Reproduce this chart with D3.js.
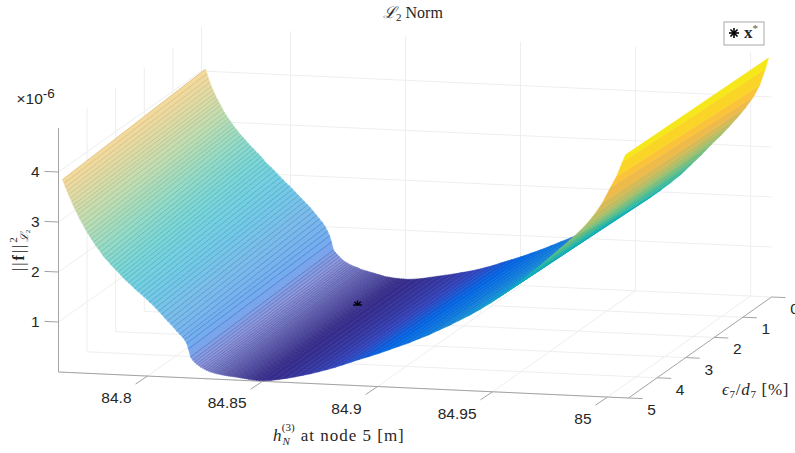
<!DOCTYPE html>
<html><head><meta charset="utf-8">
<script src="https://cdnjs.cloudflare.com/ajax/libs/d3/7.8.5/d3.min.js"></script>
<style>html,body{margin:0;padding:0;background:#fff;overflow:hidden}svg{display:block}
.t{font-family:"Liberation Sans",Arial,sans-serif;font-size:15.5px;fill:#262626}
.s{font-family:"Liberation Serif","DejaVu Serif",serif;fill:#262626}
</style></head><body><svg id="c" width="795" height="453"></svg>
<script>
const hValues=[84.7630,84.7637,84.7643,84.7650,84.7656,84.7663,84.7670,84.7676,84.7683,84.7689,84.7696,84.7704,84.7713,84.7722,84.7730,84.7739,84.7748,84.7756,84.7765,84.7774,84.7785,84.7796,84.7806,84.7817,84.7828,84.7839,84.7850,84.7861,84.7872,84.7883,84.7893,84.7904,84.7917,84.7930,84.7943,84.7956,84.7970,84.7983,84.7996,84.8009,84.8022,84.8035,84.8048,84.8061,84.8074,84.8087,84.8100,84.8113,84.8126,84.8139,84.8152,
84.8161,84.8170,84.8178,84.8187,84.8196,84.8204,84.8213,84.8222,84.8230,84.8239,84.8248,84.8256,84.8265,84.8274,84.8283,84.8291,84.8300,84.8309,84.8317,84.8326,84.8335,84.8343,84.8352,84.8361,84.8370,84.8378,84.8387,84.8396,84.8404,84.8413,84.8422,84.8430,84.8439,84.8448,84.8456,84.8465,84.8474,84.8483,84.8491,
84.8504,84.8535,84.8570,84.8604,84.8639,84.8674,84.8709,84.8743,84.8778,84.8813,84.8848,84.8883,84.8917,84.8961,84.9004,84.9048,84.9091,84.9135,84.9178,84.9222,84.9265,84.9309,84.9352,84.9396,84.9439,84.9483,84.9526,84.9570,84.9613,84.9656,84.9700,84.9743,84.9787,84.9830,84.9874,84.9909,84.9943,84.9978,85.0013,85.0039,85.0065,85.0078];
// surface height (×10^-6) along the eps = 5 edge
const zAtEps5=[3.85,3.78,3.70,3.63,3.56,3.49,3.42,3.35,3.29,3.23,3.17,3.09,3.02,2.95,2.88,2.81,2.75,2.69,2.63,2.57,2.50,2.44,2.37,2.31,2.26,2.20,2.15,2.10,2.05,2.00,1.95,1.90,1.85,1.80,1.74,1.69,1.64,1.59,1.54,1.48,1.43,1.37,1.31,1.25,1.18,1.12,1.06,1.00,.93,.87,.81,
.76,.69,.58,.42,.36,.32,.285,.26,.23,.21,.19,.17,.155,.14,.13,.12,.11,.105,.10,.09,.085,.08,.075,.07,.068,.065,.06,.055,.05,.045,.04,.035,.03,.025,.02,.018,.015,.012,.012,
.012,.025,.05,.08,.115,.155,.195,.24,.29,.34,.40,.46,.52,.59,.66,.74,.82,.90,.99,1.08,1.18,1.28,1.39,1.50,1.62,1.75,1.89,2.04,2.20,2.37,2.54,2.72,2.90,3.08,3.27,3.44,3.64,3.88,4.20,4.42,4.72,4.86];
// surface height (×10^-6) along the eps = 0 edge
const zAtEps0=[4.04,3.95,3.86,3.78,3.70,3.63,3.56,3.50,3.44,3.39,3.33,3.26,3.19,3.13,3.07,3.02,2.96,2.91,2.86,2.81,2.75,2.70,2.65,2.59,2.54,2.49,2.44,2.39,2.34,2.28,2.23,2.18,2.13,2.07,2.01,1.95,1.89,1.83,1.78,1.72,1.66,1.60,1.54,1.48,1.42,1.36,1.29,1.22,1.15,1.08,.99,
.91,.82,.70,.54,.49,.45,.41,.37,.34,.31,.29,.27,.25,.235,.22,.21,.19,.175,.165,.155,.145,.135,.125,.115,.105,.095,.085,.075,.065,.055,.05,.045,.04,.035,.03,.03,.025,.025,.025,
.02,.03,.05,.08,.11,.14,.17,.205,.24,.28,.33,.38,.44,.51,.58,.66,.74,.83,.92,1.01,1.10,1.20,1.31,1.42,1.53,1.64,1.77,1.90,2.05,2.21,2.38,2.58,2.78,3.00,3.20,3.38,3.56,3.76,3.99,4.22,4.56,4.78];
const hTicks=[84.8,84.85,84.9,84.95,85];
const hTickLabels=["84.8","84.85","84.9","84.95","85"];
const epsTicks=[0,1,2,3,4,5];
const zTicks=[1,2,3,4];
const optimum={h:84.8483,eps:1.54,z:0.124};
const parula=["#352a87","#3243ba","#0363e1","#0d75dc","#1485d4","#0998d1","#06a7c6","#15b1b4","#38b99e","#65be86","#92bf73","#b7bd64","#d9ba56","#f8ba44","#fccd2e","#f5e41d","#f9fb0e"];

const hDom=[84.7613,85.0091], zTop=4.88;
const sx=d3.scaleLinear().domain(hDom).range([0,570]);
const sxy=d3.scaleLinear().domain(hDom).range([0,26]);
const ex=d3.scaleLinear().domain([0,5]).range([143,0]);
const ey=d3.scaleLinear().domain([0,5]).range([-101,0]);
const zs=d3.scaleLinear().domain([0,1]).range([0,50]);
const P=(h,e,z)=>[58.5+sx(h)+ex(e),372+sxy(h)+ey(e)-zs(z)];
const color=d3.scaleLinear().domain(parula.map((_,i)=>i/(parula.length-1)*5)).range(parula).clamp(true);
const alpha=d3.scaleLinear().domain([84.76,84.8222,84.8483]).range([.55,.55,1]).clamp(true);
const meshA=d3.scaleLinear().domain([84.76,84.8152,84.8483,84.8504]).range([.6,.6,.4,0]).clamp(true);

const svg=d3.select("#c");
const ln=(a,b,st,w)=>svg.append("line").attr("x1",a[0]).attr("y1",a[1]).attr("x2",b[0]).attr("y2",b[1]).attr("stroke",st).attr("stroke-width",w);
const GRID="#eeeeee",AX="#a3a3a3";
const [h0,h1]=hDom;
hTicks.forEach(h=>{ln(P(h,5,0),P(h,0,0),GRID,1);ln(P(h,0,0),P(h,0,zTop),GRID,1);});
epsTicks.forEach(e=>{ln(P(h0,e,0),P(h1,e,0),GRID,1);ln(P(h0,e,0),P(h0,e,zTop),GRID,1);});
zTicks.forEach(z=>{ln(P(h0,5,z),P(h0,0,z),GRID,1);ln(P(h0,0,z),P(h1,0,z),GRID,1);});
ln(P(h0,5,0),P(h1,5,0),AX,1);ln(P(h1,5,0),P(h1,0,0),AX,1);ln(P(h0,5,0),P(h0,5,zTop),AX,1);
hTicks.forEach((h,i)=>{const p=P(h,5,0);ln(p,[p[0]-12,p[1]+8],AX,1);
 svg.append("text").attr("class","t").attr("x",p[0]-16).attr("y",p[1]+27).attr("text-anchor","end").text(hTickLabels[i]);});
epsTicks.forEach(e=>{const p=P(h1,e,0);ln(p,[p[0]+14,p[1]+.6],AX,1);
 svg.append("text").attr("class","t").attr("x",p[0]+23).attr("y",p[1]+17).attr("text-anchor","middle").text(e);});
zTicks.forEach(z=>{const p=P(h0,5,z);ln(p,[p[0]-14,p[1]-.6],AX,1);
 svg.append("text").attr("class","t").attr("x",p[0]-19).attr("y",p[1]+5).attr("text-anchor","end").text(z);});
const strips=d3.range(hValues.length-1);
const stripZ=i=>(zAtEps0[i]+zAtEps5[i]+zAtEps0[i+1]+zAtEps5[i+1])/4;
svg.append("g").selectAll("path").data(strips).join("path")
 .attr("d",i=>"M"+[P(hValues[i],0,zAtEps0[i]),P(hValues[i],5,zAtEps5[i]),P(hValues[i+1],5,zAtEps5[i+1]),P(hValues[i+1],0,zAtEps0[i+1])].map(p=>p.map(v=>v.toFixed(2)).join(",")).join("L")+"Z")
 .each(function(i){const f=d3.interpolateRgb("#fff",color(stripZ(i)))(alpha(hValues[i]));
   d3.select(this).attr("fill",f).attr("stroke",f).attr("stroke-width",.5);});
svg.append("g").selectAll("line").data(d3.range(hValues.length-1)).join("line")
 .attr("x1",i=>P(hValues[i],0,zAtEps0[i])[0]).attr("y1",i=>P(hValues[i],0,zAtEps0[i])[1])
 .attr("x2",i=>P(hValues[i],5,zAtEps5[i])[0]).attr("y2",i=>P(hValues[i],5,zAtEps5[i])[1])
 .attr("stroke",i=>d3.rgb(color(stripZ(i))).darker(.35)).attr("stroke-width",.7).attr("stroke-opacity",i=>meshA(hValues[i]));
const m=P(optimum.h,optimum.eps,optimum.z);
[0,45,90,135,180].forEach(a=>ln(m,[m[0]+4.5*Math.cos(a*Math.PI/180),m[1]-4.5*Math.sin(a*Math.PI/180)],"#000",1.4));
svg.append("text").attr("class","s").attr("x",383).attr("y",18).attr("font-size",16)
 .html('<tspan font-family="DejaVu Serif" font-style="italic">ℒ</tspan><tspan font-size="11" dy="3">2</tspan><tspan dy="-3"> Norm</tspan>');
svg.append("text").attr("class","t").attr("x",16.5).attr("y",104)
 .html('×10<tspan font-size="13.5" dy="-6">-6</tspan>');
svg.append("text").attr("class","s").attr("x",273).attr("y",441).attr("font-size",17)
 .html('<tspan font-style="italic">h</tspan><tspan font-size="11" font-style="italic" dy="4" dx="1">N</tspan><tspan font-size="11" dy="-14" dx="-8">(3)</tspan><tspan dy="10" dx="6" letter-spacing="1">at node 5 [m]</tspan>');
svg.append("text").attr("class","s").attr("x",722).attr("y",395).attr("font-size",17).attr("letter-spacing",.7)
 .html('<tspan font-style="italic">ϵ</tspan><tspan font-size="11" dy="3">7</tspan><tspan dy="-3">/</tspan><tspan font-style="italic">d</tspan><tspan font-size="11" dy="3">7</tspan><tspan dy="-3" dx="5">[%]</tspan>');
svg.append("text").attr("class","s").attr("transform","translate(24,271) rotate(-90)").attr("font-size",16)
 .html('<tspan letter-spacing="2">||<tspan font-weight="bold">f</tspan>||</tspan><tspan font-size="11" dy="-7">2</tspan><tspan font-size="11" dy="11" dx="-5" font-family="DejaVu Serif" font-style="italic">ℒ</tspan><tspan font-size="7" dy="2">2</tspan>');
svg.append("rect").attr("x",724).attr("y",22).attr("width",40).attr("height",23).attr("fill","#fff").attr("stroke","#a8a8a8");
d3.range(8).forEach(k=>{const a=k*Math.PI/4;ln([734,33],[734+5*Math.cos(a),33+5*Math.sin(a)],"#000",1.6);});
svg.append("text").attr("class","s").attr("x",744).attr("y",38).attr("font-size",17).attr("font-weight","bold").attr("fill","#000")
 .html('x<tspan font-size="11" font-weight="normal" dy="-6" fill="#555">*</tspan>');
</script></body></html>
